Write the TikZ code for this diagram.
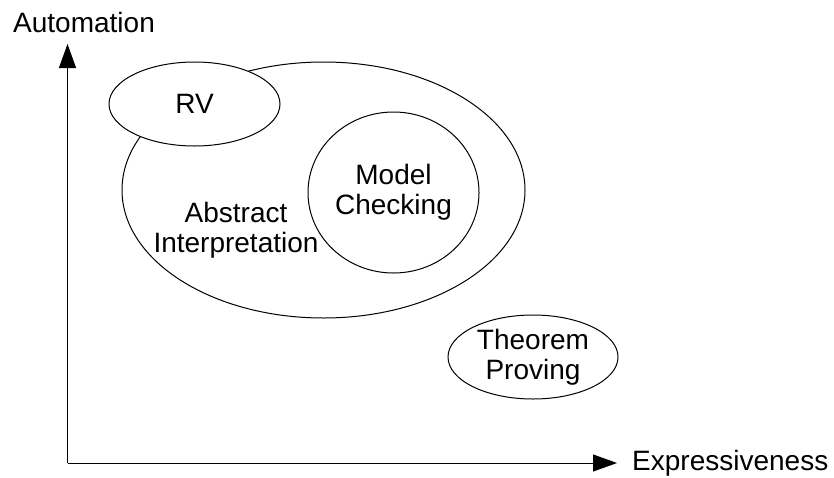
\documentclass[tikz,border=0pt]{standalone}
\usepackage{fontspec}
\setmainfont{Liberation Sans}
\usetikzlibrary{shapes.geometric,arrows.meta}
\begin{document}
\begin{tikzpicture}[x=1pt,y=-1pt,
  lbl/.style={font=\fontsize{28}{30}\selectfont, inner sep=0pt, align=center},
  blob/.style={draw, ellipse, line width=1pt, inner sep=0pt, fill=white, font=\fontsize{28}{30}\selectfont, align=center},
  axis/.style={line width=1pt, -{Triangle[length=24pt,width=17pt]}}]
\useasboundingbox (0,0) rectangle (834,477);
\coordinate (o) at (67.5,463);
\coordinate (ytip) at (67.5,44);
\coordinate (xtip) at (617,463);
\draw[axis] (o) -- (ytip);
\draw[axis] (o) -- (xtip);
\node[lbl, anchor=base west] (auto) at (13,32) {Automation};
\node[lbl, anchor=base west] (expr) at (632,470.5) {Expressiveness};
\node[blob, minimum width=403pt, minimum height=256pt] (ai) at (323.5,190) {};
\node[lbl] (aitext) at (236,230) {Abstract\\Interpretation};
\node[blob, minimum width=171pt, minimum height=84pt] (rv) at (194.5,104) {RV};
\node[blob, minimum width=171pt, minimum height=161pt] (mc) at (393.5,192.5) {Model\\Checking};
\node[blob, minimum width=170pt, minimum height=84pt] (tp) at (533,357) {Theorem\\Proving};
\end{tikzpicture}
\end{document}
